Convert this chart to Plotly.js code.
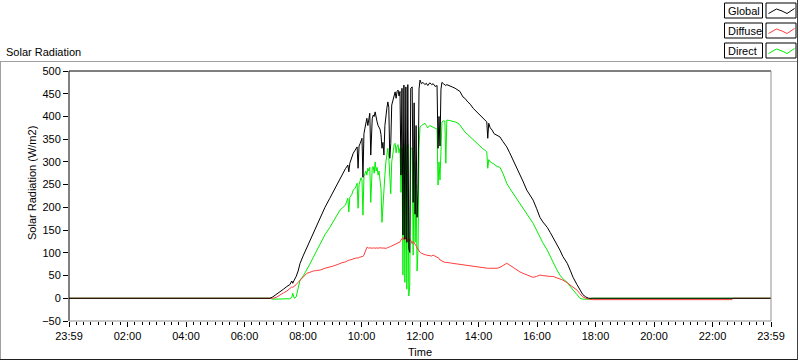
<!DOCTYPE html>
<html>
<head>
<meta charset="utf-8">
<script src="https://cdn.plot.ly/plotly-3.0.1.min.js"></script>
<style>html,body{margin:0;padding:0;background:#fff;}#chart{width:800px;height:361px;}</style>
</head>
<body>
<div id="chart"></div>
<script>
// time of day in minutes after midnight
const minutes = [0,412,418,425,433,440,447,453,457,459,462,466,470,474,481,488,494,501,508,515,525,535,542,550,556,562,567,572,574,576,580,583,587,591,593,595,597,599,601,603,605,607,609,611,613,615,617,619,622,624,626,628,630,632,634,636,638,640,642,644,646,648,650,652,654,656,658,660,662,665,667,669,671,673,675,677,679,681,683,685,687,689,691,693,695,697,699,701,704,706,708,710,712,714,716,718,720,723,726,730,733,736,740,744,747,751,755,757,759,761,763,765,768,771,773,775,781,786,792,798,802,808,812,818,823,829,833,839,843,849,853,857,859,861,864,868,872,878,884,890,898,904,911,918,925,931,939,945,952,959,966,972,981,987,993,1000,1007,1013,1022,1028,1034,1042,1048,1054,1060,1066,1073,1360,1362,1440];

const globalRad = [0,0,3,8,15,20,26,30,38,33,40,48,60,77,95,112,128,145,162,178,200,220,235,249,264,275,285,293,278,297,310,319,326,333,286,335,340,346,352,266,362,374,385,396,380,400,407,315,395,403,400,410,395,388,380,374,372,360,330,343,315,380,405,418,432,420,308,340,425,440,450,454,440,455,458,445,455,271,462,139,469,130,465,123,470,110,101,462,465,211,430,185,380,178,240,460,480,472,475,470,473,468,474,470,472,466,468,330,400,335,460,475,472,470,468,470,468,465,462,458,455,443,440,432,427,418,414,407,403,396,392,388,352,385,375,370,362,358,355,345,333,320,304,290,275,258,238,228,216,198,178,168,156,145,134,120,106,92,77,62,46,30,18,8,3,0,0,0,0,0];

const diffuseRad = [0,0,0,2,8,12,16,22,25,24,26,30,35,40,48,55,57,60,61,62,66,68,71,74,77,79,80,84,84,84,86,87,88,89,88,90,90,91,92,92,95,101,105,112,112,110,111,110,110,111,110,110,111,110,110,111,111,110,110,110,110,110,111,110,112,112,113,114,115,117,118,120,120,121,122,123,124,128,130,134,128,135,130,132,125,125,130,128,120,125,122,118,115,110,108,104,101,99,97,96,95,94,94,93,95,92,90,88,88,84,84,82,80,79,79,79,78,77,76,75,75,74,74,73,72,71,70,69,68,67,67,66,66,66,66,66,65,66,68,72,77,73,68,62,58,55,51,48,46,48,51,50,48,48,48,45,42,40,34,29,24,18,10,3,0,-2,-3,-3,0,0];

const directRad = [0,0,-2,-2,-2,-2,-2,-1,2,11,0,3,22,40,50,62,75,90,105,121,140,156,168,183,194,200,205,220,190,222,228,238,242,253,198,250,262,265,260,183,268,275,280,271,286,280,288,211,288,290,275,300,280,288,271,280,260,240,167,211,260,271,300,322,330,310,249,230,300,330,338,341,320,335,338,320,330,233,330,51,340,35,335,20,340,5,29,330,330,95,300,123,250,60,110,330,377,380,383,385,380,375,380,378,377,375,372,249,300,260,360,388,390,390,297,392,391,390,388,385,381,372,366,360,355,348,343,337,333,329,326,322,286,305,300,298,295,290,288,275,253,242,231,220,209,198,187,176,165,150,134,122,106,92,77,64,51,43,35,26,18,8,0,-2,-2,-2,0,0,0,0];

const tickMinutes = [0,120,240,360,480,600,720,840,960,1080,1200,1320,1440];
const tickLabels = ['23:59','02:00','04:00','06:00','08:00','10:00','12:00','14:00','16:00','18:00','20:00','22:00','23:59'];
const seriesNames = ['Global','Diffuse','Direct'];
const seriesColors = ['#000000','#ff3c3c','#00ee00'];

const FONT = 'Liberation Sans, Arial, sans-serif';
// plot area in pixels
const L = 69, R = 771, T = 71, B = 321;
const px = x => (x - L) / (R - L);
const py = y => (B - y) / (B - T);

const traces = [
  {x: minutes, y: directRad, name: seriesNames[2], type: 'scatter', mode: 'lines', line: {color: seriesColors[2], width: 1}},
  {x: minutes, y: diffuseRad, name: seriesNames[1], type: 'scatter', mode: 'lines', line: {color: seriesColors[1], width: 1}},
  {x: minutes, y: globalRad, name: seriesNames[0], type: 'scatter', mode: 'lines', line: {color: seriesColors[0], width: 1}}
];

function line(x0, y0, x1, y1, color, w) {
  return {type: 'line', xref: 'paper', yref: 'paper', x0: px(x0), y0: py(y0), x1: px(x1), y1: py(y1), line: {color: color, width: w || 1}};
}
function rect(x0, y0, x1, y1, color) {
  return {type: 'rect', xref: 'paper', yref: 'paper', x0: px(x0), y0: py(y0), x1: px(x1), y1: py(y1), line: {color: color, width: 1}, fillcolor: 'rgba(0,0,0,0)'};
}

const shapes = [
  // outer panel
  line(0, 61.5, 798, 61.5, '#a0a0a0'),
  line(0.5, 61.5, 0.5, 360, '#a0a0a0'),
  line(0, 359.5, 798, 359.5, '#202020'),
  line(797.5, 0, 797.5, 360, '#404040'),
  // plot frame
  line(69, 71, 771, 71, '#000'),
  line(69, 71, 69, 321, '#000'),
  line(771, 71, 771, 321, '#909090'),
  line(69, 321, 771, 321, '#909090')
];
const annotations = [
  {xref: 'paper', yref: 'paper', x: px(4), y: py(52), xanchor: 'left', yanchor: 'middle', text: 'Solar Radiation', showarrow: false, font: {family: FONT, size: 11, color: '#000'}},
  {xref: 'paper', yref: 'paper', x: px(32), y: py(183), xanchor: 'center', yanchor: 'middle', textangle: -90, text: 'Solar Radiation (W/m2)', showarrow: false, font: {family: FONT, size: 11, color: '#000'}},
  {xref: 'paper', yref: 'paper', x: px(420), y: py(352), xanchor: 'center', yanchor: 'middle', text: 'Time', showarrow: false, font: {family: FONT, size: 11, color: '#000'}}
];
// legend rows
const rowTops = [3, 23, 43];
const legendOrder = [0, 1, 2];
legendOrder.forEach((k, i) => {
  const t = rowTops[i], b = t + 15;
  shapes.push(rect(724.5, t, 762.5, b, '#000'));
  shapes.push(rect(766, t, 796, b, '#000'));
  const mid = (t + b) / 2;
  const pts = [[768.5, mid + 3], [776.5, mid - 1.5], [782, mid + 0.5], [787, mid + 3], [794.5, mid - 2]];
  const path = 'M ' + pts.map(p => px(p[0]) + ',' + py(p[1])).join(' L ');
  shapes.push({type: 'path', xref: 'paper', yref: 'paper', path: path, line: {color: seriesColors[k], width: 1}});
  annotations.push({xref: 'paper', yref: 'paper', x: px(726), y: py(mid + 0.5), xanchor: 'left', yanchor: 'middle', text: seriesNames[k], showarrow: false, font: {family: FONT, size: 11, color: '#000'}});
});

const layout = {
  width: 800, height: 361,
  margin: {l: L, r: 800 - R, t: T, b: 361 - B, pad: 0},
  paper_bgcolor: '#ffffff', plot_bgcolor: '#ffffff',
  showlegend: false,
  xaxis: {
    range: [0, 1440], tickmode: 'array', tickvals: tickMinutes, ticktext: tickLabels,
    ticks: 'outside', ticklen: 5, tickcolor: '#000', tickwidth: 1,
    tickfont: {family: FONT, size: 11, color: '#000'},
    showgrid: false, zeroline: false, showline: false, fixedrange: true,
    minor: {tickmode: 'linear', tick0: 0, dtick: 15, ticks: 'outside', ticklen: 3, tickcolor: '#000', showgrid: false}
  },
  yaxis: {
    range: [-50, 500], tickmode: 'linear', tick0: 0, dtick: 50,
    ticks: 'outside', ticklen: 5, tickcolor: '#000', tickwidth: 1,
    tickfont: {family: FONT, size: 11, color: '#000'},
    showgrid: false, zeroline: false, showline: false, fixedrange: true
  },
  shapes: shapes,
  annotations: annotations
};

Plotly.newPlot('chart', traces, layout, {displayModeBar: false, staticPlot: true});
</script>
</body>
</html>
